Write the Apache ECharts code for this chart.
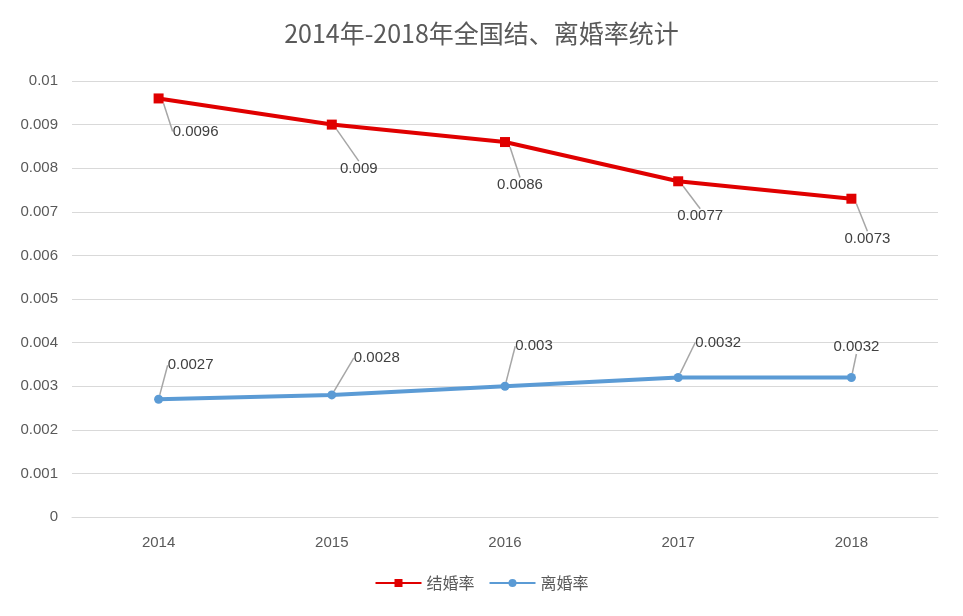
<!DOCTYPE html>
<html><head><meta charset="utf-8">
<script src="https://cdn.jsdelivr.net/npm/echarts@6/dist/echarts.min.js"></script>
<style>html,body{margin:0;padding:0;background:#fff}#c{width:963px;height:616px}</style>
</head><body><div id="c"></div>
<script>
var years = ['2014', '2015', '2016', '2017', '2018'];
var marriageRate = [0.0096, 0.009, 0.0086, 0.0077, 0.0073];
var divorceRate = [0.0027, 0.0028, 0.003, 0.0032, 0.0032];
var yTicks = ['0', '0.001', '0.002', '0.003', '0.004', '0.005', '0.006', '0.007', '0.008', '0.009', '0.01'];

// label offsets from each point (leader lines drawn by ECharts)
var mOff = [[37, 33], [27, 44], [15, 43], [22, 35], [16, 40]];
var dOff = [[32, -34], [45, -37], [29, -40], [40, -35], [5, -31]];

var chart = echarts.init(document.getElementById('c'));
var txt = '#595959';
chart.setOption({
    animation: false,
    title: { text: '2014年-2018年全国结、离婚率统计', left: 'center', top: 16,
        textStyle: { fontSize: 25, fontWeight: 'normal', color: txt, fontFamily: 'Noto Sans CJK SC' } },
    legend: { bottom: 20, itemWidth: 46, itemGap: 14, itemHeight: 10,
        textStyle: { fontSize: 16, color: txt, fontFamily: 'Noto Sans CJK SC' } },
    grid: { left: 72, right: 25, top: 81, bottom: 99 },
    xAxis: { type: 'category', data: years,
        axisLine: { lineStyle: { color: '#d9d9d9' } }, axisTick: { show: false },
        axisLabel: { color: txt, fontSize: 15, margin: 18 } },
    yAxis: { type: 'value', min: 0, max: 0.01, interval: 0.001,
        axisLabel: { color: txt, fontSize: 15, margin: 14, formatter: function (v, i) { return yTicks[i]; } },
        splitLine: { lineStyle: { color: '#d9d9d9' } }, axisLine: { show: false } },
    series: [
        { name: '结婚率', type: 'line', data: marriageRate, symbol: 'rect', symbolSize: 10,
          lineStyle: { width: 4, color: '#e00000' }, itemStyle: { color: '#e00000' },
          label: { show: true, position: 'inside', color: '#404040', fontSize: 15 },
          labelLine: { show: true, lineStyle: { color: '#a6a6a6', width: 1.5 } },
          labelLayout: function (p) { return { dx: mOff[p.dataIndex][0], dy: mOff[p.dataIndex][1] }; } },
        { name: '离婚率', type: 'line', data: divorceRate, symbol: 'circle', symbolSize: 9,
          lineStyle: { width: 4, color: '#5b9bd5' }, itemStyle: { color: '#5b9bd5' },
          label: { show: true, position: 'inside', color: '#404040', fontSize: 15 },
          labelLine: { show: true, lineStyle: { color: '#a6a6a6', width: 1.5 } },
          labelLayout: function (p) { return { dx: dOff[p.dataIndex][0], dy: dOff[p.dataIndex][1] }; } }
    ]
});
</script></body></html>
